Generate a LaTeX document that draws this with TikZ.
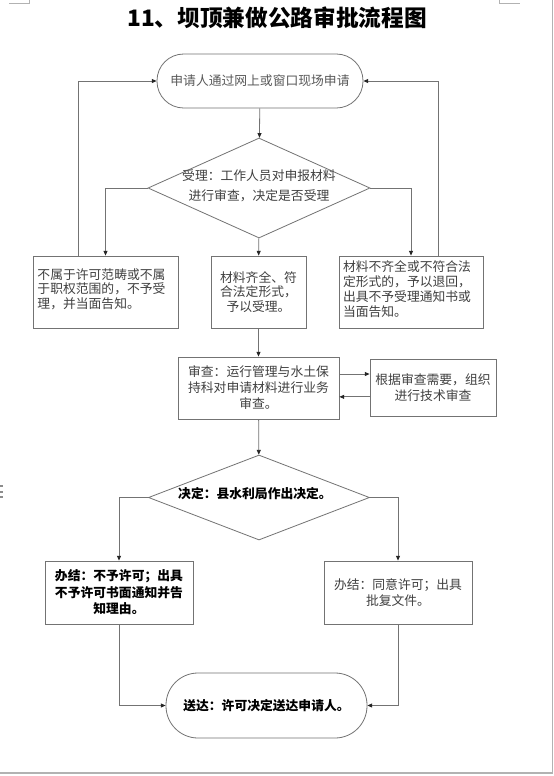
\documentclass[tikz,border=0pt]{standalone}
\usepackage{fontspec}
\setmainfont{Noto Sans CJK SC}
\usetikzlibrary{arrows.meta,positioning,shapes.geometric}

\begin{document}
\begin{tikzpicture}[x=0.75pt,y=-0.75pt,
		line/.style={draw=black!55,line width=0.6pt},
		arr/.style={line,-{Triangle[length=3.6pt,width=3pt,color=black!85]}},
		txt/.style={text=black!75,font=\fontsize{9.6}{10.8}\selectfont,inner sep=0pt},
		boldtxt/.style={text=black,font=\fontsize{9.6}{12.4}\selectfont\bfseries,inner sep=0pt},
		terminal/.style={line,rectangle,rounded corners=20pt,inner sep=0pt},
		decision/.style={line,diamond,inner sep=0pt},
		stepbox/.style={line,rectangle,inner sep=0pt,align=center},
		edge/.style={draw=black!30,line width=0.8pt}]
	\useasboundingbox[fill=white] (0,0) rectangle (554,776);
	\draw[edge] (552.5,0) -- (552.5,773) -- (0,773);
	\draw[edge,line width=0.5pt] (9,3) -- (29,3) -- (29,0);
	\draw[edge,line width=0.5pt] (499,0) -- (499,3) -- (520,3);
	\foreach \y in {486,492,497}
		\fill[black!45] (0.5,\y-1) rectangle (2.5,\y+1);

	\node[font=\fontsize{17}{20}\selectfont\bfseries] (title) at (277,18) {11、坝顶兼做公路审批流程图};

	\node[terminal,minimum width=154.5pt,minimum height=40.5pt,txt,text=black!65] (start) at (260,81) {申请人通过网上或窗口现场申请};
	\node[decision,minimum width=166.5pt,minimum height=75pt] (d1) at (259,188) {};
	\node[txt,align=center,font=\fontsize{9.6}{15}\selectfont] (d1text) at (259,186) {受理：工作人员对申报材料\\进行审查，决定是否受理};
	\node[stepbox,minimum width=108.75pt,minimum height=54pt] (nolic) at (105.5,292) {};
	\node[txt,text width=102pt,align=left] (nolictext) at (105.5,289) {不属于许可范畴或不属\\于职权范围的，不予受\\理，并当面告知。};
	\node[stepbox,minimum width=71.25pt,minimum height=54pt,txt] (ok) at (258.5,292) {材料齐全、符\\合法定形式，\\予以受理。};
	\node[stepbox,minimum width=108pt,minimum height=54pt] (reject) at (411,292) {};
	\node[txt,text width=102pt,align=left,font=\fontsize{9.6}{11.25}\selectfont] (rejecttext) at (411,289.5) {材料不齐全或不符合法\\定形式的，予以退回，\\出具不予受理通知书或\\当面告知。};
	\node[stepbox,minimum width=120.75pt,minimum height=46.5pt,txt,font=\fontsize{9.6}{12}\selectfont] (review) at (258.5,388) {审查：运行管理与水土保\\持科对申请材料进行业务\\审查。};
	\node[stepbox,minimum width=94.5pt,minimum height=42.75pt,txt,font=\fontsize{9.6}{12}\selectfont] (tech) at (433,387.5) {根据审查需要，组织\\进行技术审查};
	\node[decision,minimum width=165.75pt,minimum height=63.75pt,boldtxt] (d2) at (259,497.5) {};
	\node[boldtxt] (d2text) at (255,494) {决定：县水利局作出决定。};
	\node[stepbox,minimum width=111pt,minimum height=47.25pt,boldtxt] (refuse) at (119,592.5) {办结：不予许可；出具\\不予许可书面通知并告\\知理由。};
	\node[stepbox,minimum width=111pt,minimum height=47.25pt,txt,font=\fontsize{9.6}{12}\selectfont] (approve) at (398,592.5) {办结：同意许可；出具\\批复文件。};
	\node[terminal,rounded corners=24pt,minimum width=150.75pt,minimum height=48.75pt,boldtxt] (finish) at (266.5,705.5) {送达：许可决定送达申请人。};

	\coordinate (fbl) at (78,0);
	\coordinate (fbr) at (438,0);
	\draw[arr] (start) -- (d1);
	\draw[arr] (d1.west) -| (nolic.north);
	\draw[arr] (d1) -- (ok);
	\draw[arr] (d1.east) -| (reject.north);
	\draw[arr] (nolic.north -| fbl) |- (start.west);
	\draw[arr] (reject.north -| fbr) |- (start.east);
	\draw[arr] (ok) -- (review);
	\draw[arr] ([yshift=10.5pt]review.east) -- ([yshift=10.5pt]review.east -| tech.west);
	\draw[arr] ([yshift=-7pt]tech.west) -- ([yshift=-7pt]tech.west -| review.east);
	\draw[arr] (review) -- (d2);
	\draw[arr] (d2.west) -| (refuse.north);
	\draw[arr] (d2.east) -| (approve.north);
	\draw[arr] (refuse.south) |- (finish.west);
	\draw[arr] (approve.south) |- (finish.east);
\end{tikzpicture}
\end{document}
